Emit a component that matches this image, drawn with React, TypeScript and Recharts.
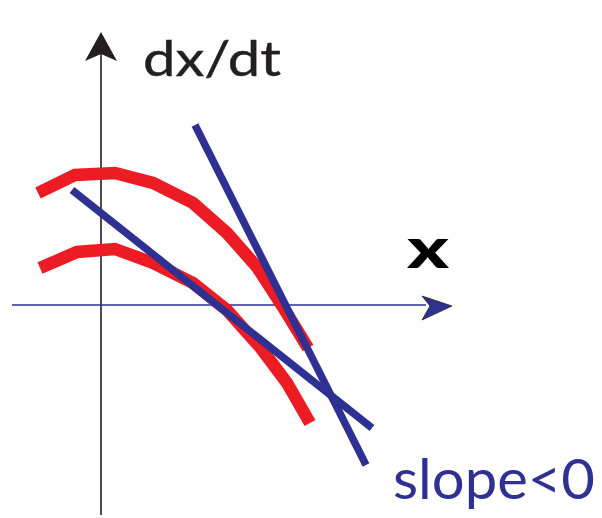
import { Line, LineChart, ReferenceDot, XAxis, YAxis } from "recharts";

// Phase-line sketch: two red dx/dt curves and two straight tangent lines with negative slope.
const RED = "#ed1c24";
const NAVY = "#2e3192";
const INK = "#231f20";

type Pt = { x: number; y: number };

const upperCurveX = [-0.63, -0.26, 0.14, 0.52, 0.92, 1.26, 1.56, 1.82, 2.07];
const upperCurveY = [1.12, 1.3, 1.32, 1.22, 1.02, 0.72, 0.38, -0.02, -0.43];

const lowerCurveX = [-0.61, -0.24, 0.14, 0.52, 0.92, 1.26, 1.59, 1.86, 2.09];
const lowerCurveY = [0.37, 0.53, 0.56, 0.42, 0.22, -0.05, -0.42, -0.78, -1.18];

const steepLineX = [0.94, 2.65];
const steepLineY = [1.8, -1.6];

const shallowLineX = [-0.29, 2.71];
const shallowLineY = [1.15, -1.23];

const xAxisSpan = [-0.89, 3.25];
const yAxisSpan = [-2.1, 2.6];

const xLabel = "x";
const yLabel = "dx/dt";
const slopeLabel = "slope<0";

function zip(xs: number[], ys: number[]): Pt[] {
  return xs.map((x, i) => ({ x, y: ys[i] }));
}

const upperCurve = zip(upperCurveX, upperCurveY);
const lowerCurve = zip(lowerCurveX, lowerCurveY);
const steepLine = zip(steepLineX, steepLineY);
const shallowLine = zip(shallowLineX, shallowLineY);
const xAxisLine = zip(xAxisSpan, [0, 0]);
const yAxisLine = zip([0, 0], yAxisSpan);

function UpArrow(props: any) {
  const { cx, cy } = props;
  return (
    <path
      d={`M${cx},${cy} L${cx + 16},${cy + 29} L${cx},${cy + 22} L${cx - 16},${cy + 29} Z`}
      fill={INK}
    />
  );
}

function RightArrow(props: any) {
  const { cx, cy } = props;
  return (
    <path
      d={`M${cx},${cy} L${cx - 30},${cy - 10} L${cx - 22},${cy} L${cx - 30},${cy + 14} Z`}
      fill={NAVY}
      stroke={INK}
      strokeWidth={0.8}
    />
  );
}

function textShape(
  text: string,
  size: number,
  width: number,
  color: string,
  weight: number | string = 400,
  thicken = 0
) {
  return (props: any) => (
    <text
      x={props.cx}
      y={props.cy}
      fontFamily="Lato, 'Open Sans', sans-serif"
      fontSize={size}
      fontWeight={weight}
      fill={color}
      stroke={thicken > 0 ? color : "none"}
      strokeWidth={thicken}
      textLength={width}
      lengthAdjust="spacingAndGlyphs"
    >
      {text}
    </text>
  );
}

export default function App() {
  return (
    <div style={{ position: "absolute", left: 0, top: 0, background: "#fff" }}>
      <LineChart width={602} height={518} margin={{ top: 0, right: 0, bottom: 0, left: 0 }}>
        <XAxis type="number" dataKey="x" domain={[-1.01, 5.01]} hide allowDataOverflow />
        <YAxis type="number" dataKey="y" domain={[-2.13, 3.05]} hide allowDataOverflow />

        <Line data={yAxisLine} dataKey="y" stroke={INK} strokeWidth={1.6} dot={false} activeDot={false} isAnimationActive={false} />
        <Line data={xAxisLine} dataKey="y" stroke={NAVY} strokeWidth={1.6} dot={false} activeDot={false} isAnimationActive={false} />

        <Line data={upperCurve} dataKey="y" stroke={RED} strokeWidth={12.5} dot={false} activeDot={false} isAnimationActive={false} />
        <Line data={lowerCurve} dataKey="y" stroke={RED} strokeWidth={12.5} dot={false} activeDot={false} isAnimationActive={false} />

        <Line data={steepLine} dataKey="y" stroke={NAVY} strokeWidth={7.5} dot={false} activeDot={false} isAnimationActive={false} />
        <Line data={shallowLine} dataKey="y" stroke={NAVY} strokeWidth={7.5} dot={false} activeDot={false} isAnimationActive={false} />

        <ReferenceDot x={0} y={2.73} shape={UpArrow} />
        <ReferenceDot x={3.51} y={-0.01} shape={RightArrow} />

        <ReferenceDot x={0.42} y={2.29} shape={textShape(yLabel, 48, 138, INK, 400, 0.4)} />
        <ReferenceDot x={3.06} y={0.37} shape={textShape(xLabel, 56, 42, "#000", 900)} />
        <ReferenceDot x={2.92} y={-1.94} shape={textShape(slopeLabel, 56, 202, NAVY, 400, 0)} />
      </LineChart>
    </div>
  );
}
